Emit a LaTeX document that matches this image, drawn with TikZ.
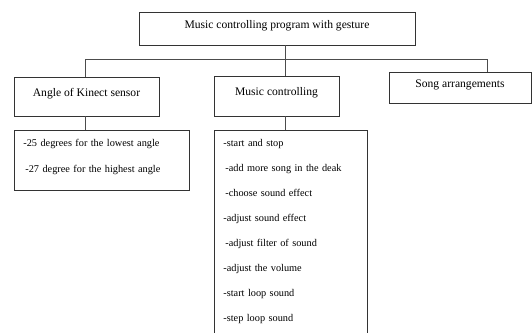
\documentclass[tikz,border=0pt]{standalone}
\usepackage{fontspec}
\setmainfont{Liberation Serif}

\begin{document}
\begin{tikzpicture}[x=1pt, y=-1pt,
	box/.style={draw=black!80, line width=.8pt, inner sep=0pt, text height=8pt, text depth=9pt, font=\fontsize{11.6}{14}\selectfont},
	list/.style={draw=black!80, line width=.8pt, anchor=north west, align=left, inner xsep=9pt, inner ysep=9pt}]
			\useasboundingbox (0,0) rectangle (532,332);

			\node[box, minimum width=276pt, minimum height=33pt] (top) at (277,28.5) {Music controlling program with gesture};
			\node[box, minimum width=145pt, minimum height=39pt] (angle) at (86.5,96.5) {Angle of Kinect sensor};
			\node[box, minimum width=125pt, minimum height=40pt] (music) at (276.5,96) {Music controlling};
			\node[box, minimum width=142pt, minimum height=31pt] (song) at (460,87.5) {Song arrangements};

			\node[list, text width=157pt, font=\fontsize{10.3}{26}\selectfont] (angleList) at (14,130) {\rule{0pt}{7.5pt}-25 degrees for the lowest angle\\
				\hspace*{2pt}-27 degree for the highest angle\rule[-8.5pt]{0pt}{8.5pt}};
			\node[list, text width=135pt, font=\fontsize{10.3}{24.9}\selectfont] (musicList) at (214,130) {\rule{0pt}{7.5pt}-start and stop\\
				\hspace*{2pt}-add more song in the deak\\
				\hspace*{2pt}-choose sound effect\\
				-adjust sound effect\\
				\hspace*{2pt}-adjust filter of sound\\
				-adjust the volume\\
				-start loop sound\\
				-step loop sound\rule[-16pt]{0pt}{16pt}};

			\coordinate (hub) at (285.7,59);
			\coordinate (leftend) at (85,59);
			\coordinate (rightend) at (487,59);

			\path[every edge/.style={draw=black!70, line width=.8pt, line cap=rect}]
				(hub |- top.south) edge (hub)
				(leftend) edge (rightend)
				(leftend) edge (leftend |- angle.north)
				(hub) edge (hub |- music.north)
				(rightend) edge (rightend |- song.north)

				(leftend |- angle.south) edge (leftend |- angleList.north)
				(hub |- music.south) edge (hub |- musicList.north)
			;
		\end{tikzpicture}
\end{document}
